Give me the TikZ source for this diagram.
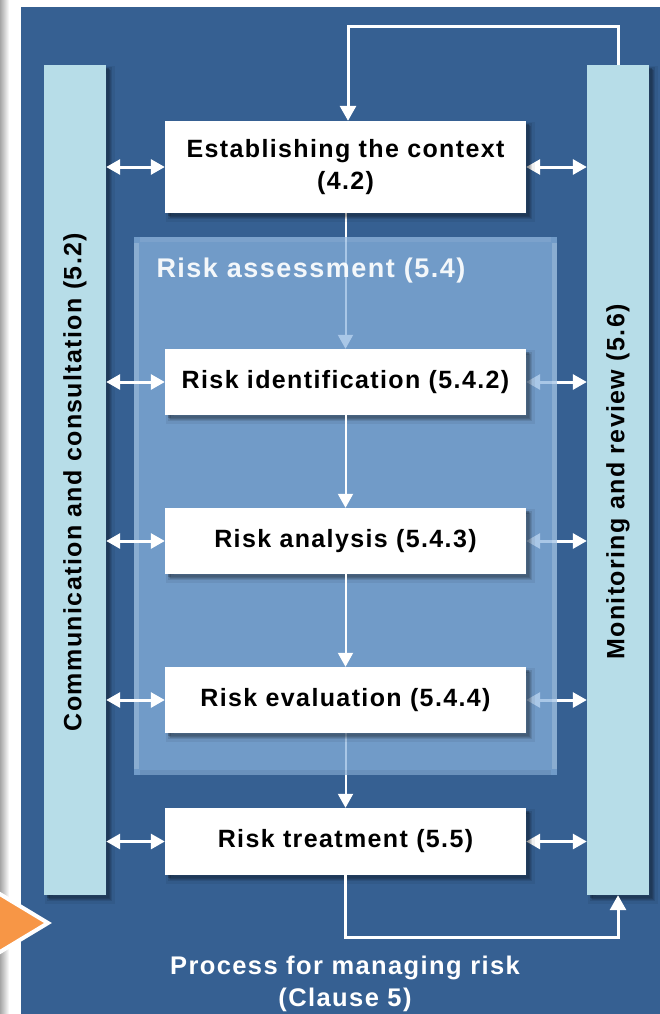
\documentclass[tikz,border=0pt]{standalone}
\usepackage{fontspec}
\newfontfamily\diagfont{Liberation Sans}[LetterSpace=5.5]
\usetikzlibrary{arrows.meta}
\definecolor{panelblue}{RGB}{54,96,146}
\definecolor{barblue}{RGB}{183,221,232}
\definecolor{raveil}{RGB}{137,178,222}
\definecolor{orangetip}{RGB}{247,150,70}
\pgfdeclarelayer{bg}
\pgfdeclarelayer{low}
\pgfdeclarelayer{veil}
\pgfsetlayers{bg,low,veil,main}

\begin{document}
\begin{tikzpicture}[x=1pt,y=-1pt,
  every node/.style={font=\diagfont\bfseries\fontsize{25}{32}\selectfont},
  % soft drop shadow built from a few offset translucent copies
  softshadow/.style={
    preaction={fill=black, fill opacity=0.10, draw=black, draw opacity=0.06,
               line width=8pt, transform canvas={shift={(5pt,-5pt)}}},
    preaction={fill=black, fill opacity=0.12, draw=black, draw opacity=0.10,
               line width=3pt, transform canvas={shift={(4pt,-4pt)}}},
    preaction={fill=black, fill opacity=0.18, transform canvas={shift={(3pt,-3pt)}}}},
  stepbox/.style={fill=white, minimum width=361pt, inner sep=0pt,
      align=center, text=black, softshadow},
  sidebar/.style={fill=barblue, minimum width=62pt, minimum height=830pt,
      inner sep=0pt, softshadow},
  flow/.style={draw=white, line width=2pt, -{Triangle[width=15pt,length=14pt]}},
  link/.style={draw=white, line width=3pt,
      {Triangle[width=15pt,length=14pt]}-{Triangle[width=15pt,length=14pt]}},
  feedback/.style={draw=white, line width=3pt, -{Triangle[width=16pt,length=15pt]}},
]
\useasboundingbox (0,0) rectangle (660,1014);

% page, side shade and blue panel
\begin{pgfonlayer}{bg}
  \fill[white] (0,0) rectangle (660,1014);
  \shade[left color=black!35, right color=white] (0,0) rectangle (9,1014);
  \fill[panelblue] (21,7) rectangle (660,1014);
  \node[sidebar] (lbar) at (75,480) {};
  \node[sidebar] (rbar) at (618,480) {};
  \node[rotate=90, text=black] (lbartxt) at (75,482) {Communication and consultation (5.2)};
  \node[rotate=90, text=black] (rbartxt) at (618,482) {Monitoring and review (5.6)};
\end{pgfonlayer}

% process steps
\node[stepbox, minimum height=92pt] (ctx) at (345.5,167) {Establishing the context\\(4.2)};
\node[stepbox, minimum height=66pt] (ident) at (345.5,382) {Risk identification (5.4.2)};
\node[stepbox, minimum height=66pt] (anal) at (345.5,541) {Risk analysis (5.4.3)};
\node[stepbox, minimum height=66pt] (eval) at (345.5,700) {Risk evaluation (5.4.4)};
\node[stepbox, minimum height=67pt] (treat) at (345.5,841.5) {Risk treatment (5.5)};

% translucent risk assessment frame with a soft bevel
\begin{pgfonlayer}{veil}
  \node[fill=raveil, fill opacity=0.72, minimum width=423pt, minimum height=538pt,
        inner sep=0pt] (ra) at (345.5,506) {};
  \draw[white, draw opacity=0.18, line width=5pt]
    ([xshift=3pt,yshift=-6pt]ra.north west) -- ([xshift=3pt,yshift=6pt]ra.south west);
  \draw[white, draw opacity=0.18, line width=5pt]
    ([xshift=-3pt,yshift=-6pt]ra.north east) -- ([xshift=-3pt,yshift=6pt]ra.south east);
  \draw[white, draw opacity=0.08, line width=5pt]
    ([xshift=6pt,yshift=-3pt]ra.north west) -- ([xshift=-6pt,yshift=-3pt]ra.north east);
  \draw[black, draw opacity=0.06, line width=5pt]
    ([xshift=6pt,yshift=3pt]ra.south west) -- ([xshift=-6pt,yshift=3pt]ra.south east);
  \node[anchor=west, text=white, text opacity=0.92,
        font=\diagfont\bfseries\fontsize{27}{32}\selectfont] (ralabel) at (153,271)
        {Risk assessment (5.4)};
\end{pgfonlayer}

% connectors seen through the frame
\begin{pgfonlayer}{low}
  \draw[flow] (ctx.south) -- (ident.north);
  \draw[flow] (eval.south) -- (treat.north);
  \foreach \s in {ctx,ident,anal,eval,treat}
    \draw[link] (\s.east) -- (rbar.west |- \s.east);
\end{pgfonlayer}

% connectors in front
\draw[flow] (ident.south) -- (anal.north);
\draw[flow] (anal.south) -- (eval.north);
\foreach \s in {ctx,ident,anal,eval,treat}
  \draw[link] (lbar.east |- \s.west) -- (\s.west);

% feedback loops
\coordinate (topturn) at (348,27);
\coordinate (botturn) at (345,937);
\draw[feedback] (rbar.north) |- (topturn) -- (topturn |- ctx.north);
\draw[feedback] (treat.south) -- (treat.south |- botturn) -| (rbar.south);

% orange pointer on the left edge
\draw[fill=orangetip, draw=white, line width=4pt, line join=miter]
  (-40,870) -- (48,923) -- (-40,976) -- cycle;

% caption
\node[text=white, align=center, font=\diagfont\bfseries\fontsize{25.5}{32}\selectfont]
  (caption) at (345,984) {Process for managing risk\\(Clause 5)};
\end{tikzpicture}
\end{document}
